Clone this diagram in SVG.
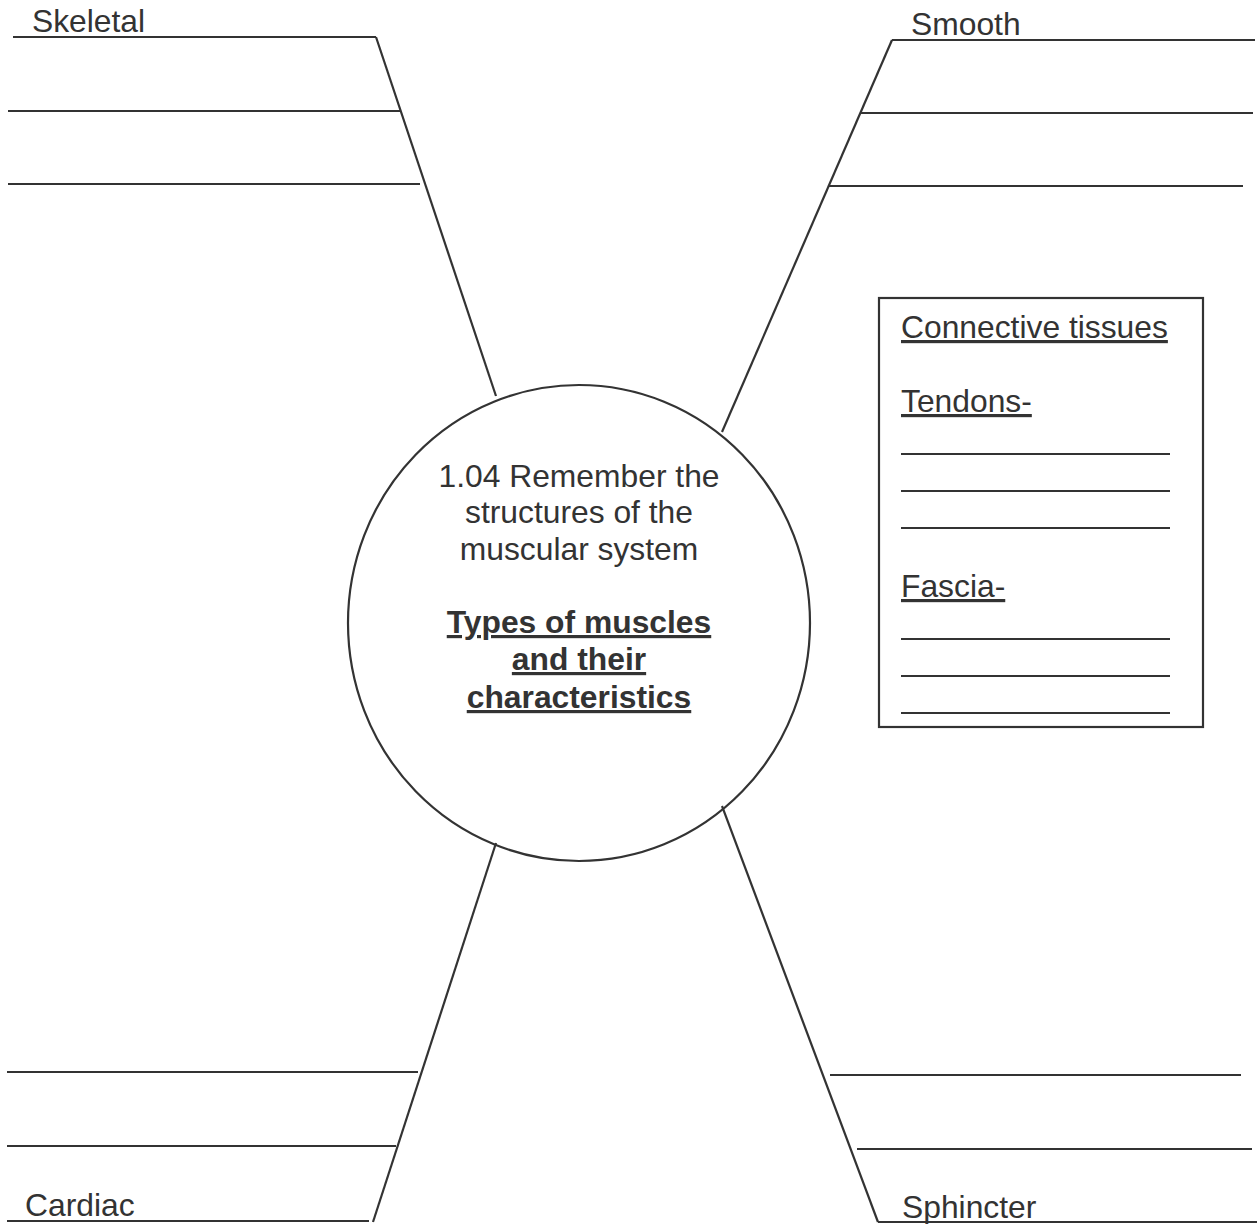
<svg xmlns="http://www.w3.org/2000/svg" width="1257" height="1224" viewBox="0 0 1257 1224">
<style>
.ln{stroke:#333;stroke-width:2.2;fill:none}
.t{font-family:"Liberation Sans",Arial,sans-serif;font-size:31.8px;fill:#333}
.b{font-weight:bold}
.u{text-decoration:underline}
.m{text-anchor:middle}
</style>
<rect width="1257" height="1224" fill="#fff"/>
<g id="connectors">
<line class="ln" x1="376" y1="37" x2="496" y2="396"/>
<line class="ln" x1="892" y1="40" x2="722" y2="432"/>
<line class="ln" x1="373" y1="1222" x2="496" y2="843"/>
<line class="ln" x1="878" y1="1222" x2="722" y2="806"/>
</g>
<g id="skeletal">
<text class="t" x="32" y="32">Skeletal</text>
<line class="ln" x1="13" y1="37" x2="376" y2="37"/>
<line class="ln" x1="8" y1="111" x2="400" y2="111"/>
<line class="ln" x1="8" y1="184" x2="420" y2="184"/>
</g>
<g id="smooth">
<text class="t" x="911" y="35">Smooth</text>
<line class="ln" x1="892" y1="40" x2="1255" y2="40"/>
<line class="ln" x1="860" y1="113" x2="1253" y2="113"/>
<line class="ln" x1="829" y1="186" x2="1243" y2="186"/>
</g>
<g id="cardiac">
<text class="t" x="25" y="1216">Cardiac</text>
<line class="ln" x1="7" y1="1072" x2="418" y2="1072"/>
<line class="ln" x1="7" y1="1146" x2="396" y2="1146"/>
<line class="ln" x1="7" y1="1221" x2="369" y2="1221"/>
</g>
<g id="sphincter">
<text class="t" x="902" y="1218">Sphincter</text>
<line class="ln" x1="830" y1="1075" x2="1241" y2="1075"/>
<line class="ln" x1="857" y1="1149" x2="1252" y2="1149"/>
<line class="ln" x1="878" y1="1222" x2="1257" y2="1222"/>
</g>
<g id="center">
<ellipse class="ln" cx="579" cy="623" rx="231" ry="238"/>
<text class="t m" x="579" y="487">1.04 Remember the</text>
<text class="t m" x="579" y="523">structures of the</text>
<text class="t m" x="579" y="560">muscular system</text>
<text class="t m b u" x="579" y="633">Types of muscles</text>
<text class="t m b u" x="579" y="670">and their</text>
<text class="t m b u" x="579" y="708">characteristics</text>
</g>
<g id="connective">
<rect class="ln" x="879" y="298" width="324" height="429"/>
<text class="t u" x="901" y="338">Connective tissues</text>
<text class="t u" x="901" y="412">Tendons-</text>
<line class="ln" x1="901" y1="454" x2="1170" y2="454"/>
<line class="ln" x1="901" y1="491" x2="1170" y2="491"/>
<line class="ln" x1="901" y1="528" x2="1170" y2="528"/>
<text class="t u" x="901" y="597">Fascia-</text>
<line class="ln" x1="901" y1="639" x2="1170" y2="639"/>
<line class="ln" x1="901" y1="676" x2="1170" y2="676"/>
<line class="ln" x1="901" y1="713" x2="1170" y2="713"/>
</g>
</svg>
